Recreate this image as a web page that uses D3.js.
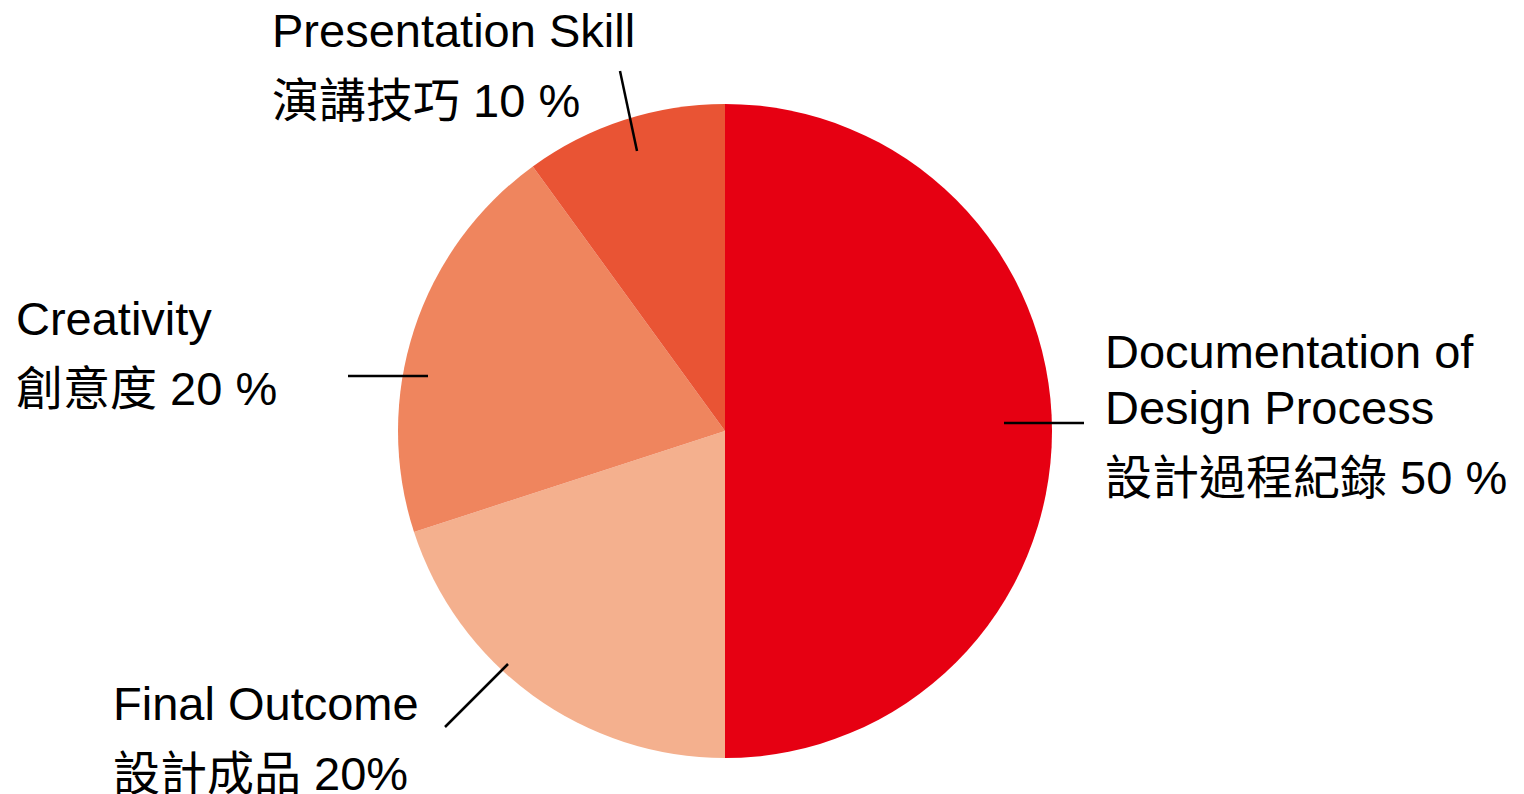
<!DOCTYPE html>
<html>
<head>
<meta charset="utf-8">
<script src="https://cdn.jsdelivr.net/npm/d3@7"></script>
<style>
  body { margin: 0; background: #fff; }
  svg text { font-family: "Liberation Sans", Arial, "Noto Sans CJK TC", sans-serif; fill: #000; }
</style>
</head>
<body>
<div id="chart"></div>
<script>
/* assessment weighting pie */

const categories = ["Documentation of Design Process", "Final Outcome", "Creativity", "Presentation Skill"];
const shares = [50, 20, 20, 10];
const enLines = [["Documentation of", "Design Process"], ["Final Outcome"], ["Creativity"], ["Presentation Skill"]];
const zhLines = ["設計過程紀錄 50 %", "設計成品 20%", "創意度 20 %", "演講技巧 10 %"];
const sliceColors = ["#E60012", "#F4B08E", "#EF855E", "#E95434"];

// label placement (text anchor + leader line, hand tuned to the layout)
const labelLayout = [
  {x: 1105, y: 368, line: [[1004, 423], [1084, 423]]},
  {x: 113, y: 720, line: [[508, 664], [445, 727]]},
  {x: 16, y: 335, line: [[428, 376], [348, 376]]},
  {x: 272, y: 47, line: [[637, 151], [620, 71]]}
];

let width = 1524, height = 794;
let cx = 725, cy = 431, radius = 327;

let svg = d3.select("#chart")
    .append("svg")
    .attr("width", width)
    .attr("height", height);

let data = categories.map((c, i) => ({name: c, value: shares[i], en: enLines[i], zh: zhLines[i], color: sliceColors[i], layout: labelLayout[i]}));

let pie = d3.pie()
    .sort(null)
    .value(d => d.value);

let arc = d3.arc()
    .innerRadius(0)
    .outerRadius(radius);

let g = svg.append("g")
    .attr("transform", `translate(${cx},${cy})`);

g.selectAll(".slice")
    .data(pie(data))
    .enter()
    .append("path")
    .attr("class", "slice")
    .attr("d", arc)
    .attr("fill", d => d.data.color);

// leader lines
svg.selectAll(".leader")
    .data(data)
    .enter()
    .append("line")
    .attr("class", "leader")
    .attr("x1", d => d.layout.line[0][0])
    .attr("y1", d => d.layout.line[0][1])
    .attr("x2", d => d.layout.line[1][0])
    .attr("y2", d => d.layout.line[1][1])
    .attr("stroke", "#000")
    .attr("stroke-width", 2.5);

// labels
let labels = svg.selectAll(".label")
    .data(data)
    .enter()
    .append("text")
    .attr("class", "label")
    .attr("x", d => d.layout.x)
    .attr("y", d => d.layout.y)
    .style("font-size", "47px");

labels.each(function(d) {
  let t = d3.select(this);
  d.en.forEach((line, i) => {
    t.append("tspan")
        .attr("x", d.layout.x)
        .attr("dy", i == 0 ? 0 : 56)
        .text(line);
  });
  t.append("tspan")
      .attr("x", d.layout.x)
      .attr("dy", 70)
      .text(d.zh);
});
</script>
</body>
</html>
